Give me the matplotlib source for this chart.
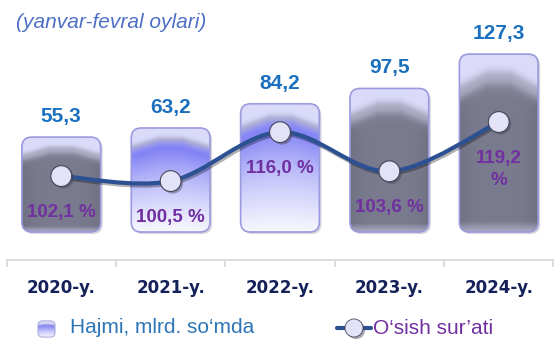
import numpy as np
import matplotlib
matplotlib.use("Agg")
import matplotlib.pyplot as plt
import matplotlib.patheffects as pe
import matplotlib.transforms as mtransforms
from matplotlib.patches import FancyBboxPatch, PathPatch
from matplotlib.path import Path
from matplotlib.lines import Line2D

# data
years = ["2020-y.", "2021-y.", "2022-y.", "2023-y.", "2024-y."]
volume = [55.3, 63.2, 84.2, 97.5, 127.3]          # Hajmi, mlrd. so'mda
growth = [102.1, 100.5, 116.0, 103.6, 119.2]      # O'sish sur'ati, %
growth_labels = ["102,1 %", "100,5 %", "116,0 %", "103,6 %", "119,2\n%"]

# fill style of each bar picture
bar_kind = ["gray", "blue", "blue", "gray", "gray"]

FONT = "Liberation Sans"
LAVENDER = np.array([0.86, 0.86, 0.98])


def texture(kind, rows=120, cols=80, peak=0.15, side=0.23):
    """Picture fill used for the bars: lavender top with a 'mountain' below."""
    t = np.linspace(0, 1, rows)[:, None]
    s = np.linspace(-1, 1, cols)[None, :]
    edge = peak + (side - peak) * np.clip((np.abs(s) - 0.3) / 0.7, 0, 1)
    m = 1 / (1 + np.exp(-(t - edge) / 0.02))
    if kind == "gray":
        body = np.array([0.48, 0.48, 0.56]) * (1 - 0.08 * s ** 4)[..., None]
        low = np.clip((t - 0.94) / 0.06, 0, 1)[..., None]
        body = body * (1 - 0.5 * low) + LAVENDER * 0.5 * low
    else:
        g = (np.clip((t - edge) / (1 - edge), 0, 1) ** 0.6)[..., None]
        body = np.array([0.38, 0.38, 0.95]) * (1 - g) + np.array([0.97, 0.97, 1.0]) * g
    # darker rim just above the boundary
    rim = np.exp(-((t - edge + 0.03) / 0.035) ** 2)[..., None] * 0.15
    top = LAVENDER * (1 - rim)
    img = top * (1 - m[..., None]) + body * m[..., None]
    return np.clip(img, 0, 1)


def fmt(v):
    return f"{v:.1f}".replace(".", ",")


fig = plt.figure(figsize=(5.6, 3.54), dpi=100)
ax = fig.add_axes([0, 0, 1, 1])
ax2 = ax.twinx()

x = np.arange(len(years))
xlim = (-0.56, 4.56)
ylim = (-132.8, 174.2)
bar_bottom = -27
bar_w = 0.72
px_per_x = 560 / (xlim[1] - xlim[0])
px_per_y = 354 / (ylim[1] - ylim[0])
aspect = px_per_x / px_per_y

shadow_tr = ax.transData + mtransforms.ScaledTranslation(1.5 / 72, -1.5 / 72, fig.dpi_scale_trans)

for xi, v, kind in zip(x, volume, bar_kind):
    box = dict(boxstyle="round,pad=0,rounding_size=0.09", mutation_aspect=aspect)
    sh = FancyBboxPatch((xi - bar_w / 2, bar_bottom), bar_w, v - bar_bottom,
                        fc=(0.3, 0.3, 0.4, 0.22), ec="none", transform=shadow_tr,
                        zorder=1, **box)
    ax.add_patch(sh)
    frame = FancyBboxPatch((xi - bar_w / 2, bar_bottom), bar_w, v - bar_bottom,
                           fc="none", ec="#9A9ADE", lw=1.2, zorder=3, **box)
    ax.add_patch(frame)
    rows = int(round((v - bar_bottom) * px_per_y))
    cols = int(round(bar_w * px_per_x))
    im = ax.imshow(texture(kind, rows=rows, cols=cols),
                   extent=(xi - bar_w / 2, xi + bar_w / 2, bar_bottom, v),
                   aspect="auto", interpolation="bilinear", zorder=2)
    im.set_clip_path(frame)
    ax.annotate(fmt(v), (xi, v), xytext=(0, 8), textcoords="offset points",
                ha="center", va="bottom", fontsize=15, fontweight="bold",
                color="#1B70BF", family=FONT)

ax.set_xlim(*xlim)
ax.set_ylim(*ylim)
ax2.set_ylim(45.8, 157.8)

# smooth growth line (Catmull-Rom through the points as cubic Beziers)
pts = np.column_stack([x, growth]).astype(float)
ext = np.vstack([pts[0], pts, pts[-1]])
verts = [pts[0]]
codes = [Path.MOVETO]
for i in range(len(pts) - 1):
    p0, p1, p2, p3 = ext[i], ext[i + 1], ext[i + 2], ext[i + 3]
    verts += [p1 + (p2 - p0) / 6, p2 - (p3 - p1) / 6, p2]
    codes += [Path.CURVE4] * 3
line = PathPatch(Path(verts, codes), fill=False, ec="#2C5193", lw=3, zorder=4,
                 capstyle="round",
                 path_effects=[pe.SimpleLineShadow(offset=(1, -1.5), alpha=0.3), pe.Normal()])
ax2.add_patch(line)
ax2.plot(x, growth, ls="none", marker="o", ms=15, mfc="#E2E2F8", mec="#45455A",
         mew=0.8, zorder=5,
         path_effects=[pe.SimplePatchShadow(offset=(1.5, -1.5), shadow_rgbFace="#444455",
                                            alpha=0.45), pe.Normal()])
for xi, p, lab in zip(x, growth, growth_labels):
    ax2.annotate(lab, (xi, p), xytext=(0, -20), textcoords="offset points",
                 ha="center", va="top", fontsize=13.5, fontweight="bold",
                 color="#7030A0", family=FONT, linespacing=1.4, zorder=6)

# category axis
for s in ["top", "left", "right"]:
    ax.spines[s].set_visible(False)
for s in ax2.spines.values():
    s.set_visible(False)
ax2.set_yticks([])
ax.set_yticks([])
ax.spines["bottom"].set_position(("axes", (354 - 259.5) / 354))
ax.spines["bottom"].set_bounds(-0.5, 4.5)
ax.spines["bottom"].set_color("#D9D9D9")
ax.spines["bottom"].set_linewidth(1.3)
ax.set_xticks(np.arange(-0.5, 5, 1))
ax.set_xticklabels([])
ax.set_xticks(x, minor=True)
ax.set_xticklabels(years, minor=True, fontsize=12, fontweight="bold",
                   color="#16215A", family="DejaVu Sans")
ax.tick_params(axis="x", which="major", length=5, width=1.3, color="#D9D9D9", direction="out")
ax.tick_params(axis="x", which="minor", length=0, pad=14)

# title
fig.text(16 / 560, 1 - 23 / 354, "(yanvar-fevral oylari)", ha="left", va="center",
         fontsize=15, style="italic", color="#4E6FC6", family=FONT)

# legend
icon = fig.add_axes([37 / 560, 1 - 338 / 354, 19 / 560, 18 / 354])
icon.set_axis_off()
icon.set_xlim(0, 1)
icon.set_ylim(0, 1)
ibox = FancyBboxPatch((0.05, 0.05), 0.9, 0.9, boxstyle="round,pad=0,rounding_size=0.25",
                      fc="none", ec="#B0B0E0", lw=0.8, transform=icon.transAxes)
icon.add_patch(ibox)
iim = icon.imshow(texture("blue", rows=18, cols=19, peak=0.3, side=0.35), extent=(0, 1, 0, 1),
                  aspect="auto", interpolation="bilinear")
iim.set_clip_path(ibox)
fig.text(70 / 560, 1 - 333 / 354, "Hajmi, mlrd. so\u2018mda", ha="left", va="baseline",
         fontsize=15, color="#2E75B6", family=FONT)

ly = 1 - 328 / 354
fig.add_artist(Line2D([337 / 560, 371 / 560], [ly, ly], transform=fig.transFigure,
                      color="#2C5193", lw=3, solid_capstyle="round"))
fig.add_artist(Line2D([354 / 560], [ly], transform=fig.transFigure, ls="none",
                      marker="o", ms=13, mfc="#E2E2F8", mec="#45455A", mew=0.6,
                      path_effects=[pe.SimplePatchShadow(offset=(1.5, -1.5),
                                                         shadow_rgbFace="#444455",
                                                         alpha=0.45), pe.Normal()]))
fig.text(373 / 560, 1 - 334 / 354, "O\u2018sish sur\u2019ati", ha="left", va="baseline",
         fontsize=15, color="#7030A0", family=FONT)

fig.savefig("out.png", dpi=100)
